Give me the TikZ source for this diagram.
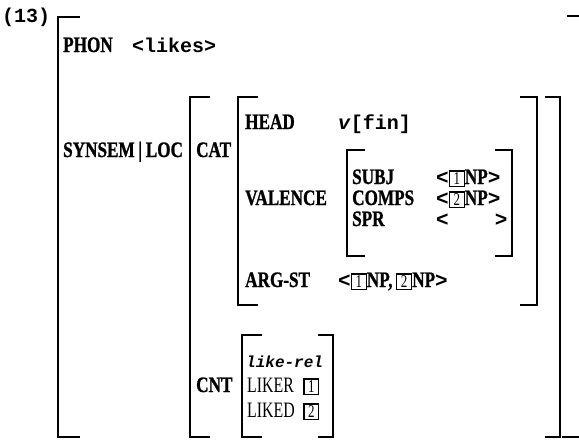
\documentclass[tikz,border=0pt]{standalone}
\usepackage{fontspec}
\newfontfamily\labb[FakeStretch=0.78,FakeBold=1]{Liberation Serif Bold}
\newfontfamily\labr[FakeStretch=0.72]{Liberation Serif}
\newfontfamily\tyfont{Liberation Mono}
\newcommand\tg[1]{{\setlength\fboxsep{0.5pt}\setlength\fboxrule{1.3pt}\fbox{\rule[-1.5pt]{0pt}{13pt}\makebox[12.5pt]{\labr\fontsize{18}{18}\selectfont #1}}}}
\newcommand\myla{{\tyfont\bfseries\fontsize{21}{21}\selectfont<}}
\newcommand\myra{{\tyfont\bfseries\fontsize{21}{21}\selectfont>}}
\begin{document}
\begin{tikzpicture}[x=1pt,y=-1pt,
  brk/.style={line width=1.8pt},
  lbl/.style={anchor=base west,inner sep=0pt,text height=14pt,text depth=2pt,font=\labb\fontsize{22}{22}\selectfont},
  reg/.style={anchor=base west,inner sep=0pt,text height=14pt,text depth=2pt,font=\labr\fontsize{22}{22}\selectfont},
  val/.style={anchor=base west,inner sep=0pt,text height=14pt,text depth=2pt,font=\tyfont\bfseries\fontsize{20}{20}\selectfont}]
\useasboundingbox (0,0) rectangle (579,440);
% label number
\node[val] (num) at (2,22) {(13)};
% outer brackets
\draw[brk] (80,17) -- (58,17) -- (58,437) -- (80,437);
\draw[brk] (567,16) -- (581,16) -- (581,437) -- (562,437);
% PHON
\node[lbl] (phon) at (63,52) {PHON};
\node[val] (phonv) at (132,52) {<likes>};
% SYNSEM|LOC
\node[lbl] (synsem) at (63,157) {SYNSEM\,|\,LOC};
\draw[brk] (210,97) -- (190,97) -- (190,437) -- (210,437);
\draw[brk] (545,97) -- (560,97) -- (560,437) -- (545,437);
% CAT
\node[lbl] (cat) at (196,157) {CAT};
\draw[brk] (258,97) -- (238,97) -- (238,305) -- (258,305);
\draw[brk] (520,97) -- (537,97) -- (537,305) -- (520,305);
\node[lbl] (head) at (245,129) {HEAD};
\node[val] (headv) at (338,129) {\textit{v}[fin]};
\node[lbl] (valence) at (245,205) {VALENCE};
\draw[brk] (365,150) -- (347,150) -- (347,256) -- (365,256);
\draw[brk] (495,150) -- (512,150) -- (512,256) -- (495,256);
\node[lbl] (subj) at (352,184) {SUBJ};
\node[lbl] (comps) at (352,205) {COMPS};
\node[lbl] (spr) at (352,226) {SPR};
\node[lbl] (subjv) at (436,184) {\myla\tg{1}NP\myra};
\node[lbl] (compsv) at (436,205) {\myla\tg{2}NP\myra};
\node[lbl] (sprv) at (436,226) {\myla\hspace{46pt}\myra};
\node[lbl] (argst) at (245,287) {ARG-ST};
\node[lbl] (argstv) at (338,287) {\myla\tg{1}NP,\,\tg{2}NP\myra};
% CNT
\node[lbl] (cnt) at (196,392) {CNT};
\draw[brk] (262,335) -- (242,335) -- (242,437) -- (262,437);
\draw[brk] (318,335) -- (333,335) -- (333,437) -- (318,437);
\node[val,font=\tyfont\bfseries\itshape\fontsize{16}{16}\selectfont] (rel) at (246,367) {like-rel};
\node[reg] (liker) at (247,392) {LIKER};
\node[reg] (liked) at (247,417) {LIKED};
\node[reg] (likerv) at (303,392) {\tg{1}};
\node[reg] (likedv) at (303,417) {\tg{2}};
\end{tikzpicture}
\end{document}
